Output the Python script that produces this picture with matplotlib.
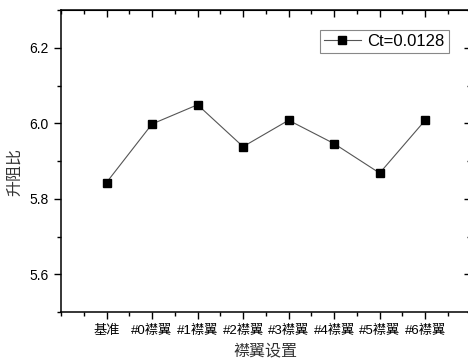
import matplotlib
matplotlib.use("Agg")
import matplotlib.pyplot as plt
from matplotlib.ticker import MultipleLocator, FixedLocator

plt.rcParams['font.family'] = ['Liberation Sans', 'Noto Sans CJK SC', 'DejaVu Sans']

categories = ["基准", "#0襟翼", "#1襟翼", "#2襟翼", "#3襟翼", "#4襟翼", "#5襟翼", "#6襟翼"]
lift_drag = [5.843, 5.998, 6.049, 5.938, 6.008, 5.946, 5.868, 6.008]
series_label = "Ct=0.0128"

fig = plt.figure(figsize=(4.68, 3.62), dpi=100)
# the right spine sits just past the picture edge, as in the original export
ax = fig.add_axes([0.1303, 0.138, 0.8755, 0.8344])

xs = list(range(1, len(categories) + 1))
ax.plot(xs, lift_drag, color="#555555", linewidth=0.8, marker="s",
        markersize=6, markerfacecolor="black", markeredgecolor="black",
        label=series_label)

ax.set_xlim(0, 9)
ax.set_ylim(5.5, 6.3)
ax.xaxis.set_major_locator(FixedLocator(xs))
ax.xaxis.set_minor_locator(MultipleLocator(0.5))
ax.set_xticklabels(categories, fontsize=9.5)
ax.yaxis.set_major_locator(FixedLocator([5.6, 5.8, 6.0, 6.2]))
ax.yaxis.set_minor_locator(FixedLocator([5.5, 5.7, 5.9, 6.1, 6.3]))
ax.set_yticklabels(["5.6", "5.8", "6.0", "6.2"], fontsize=10)

ax.tick_params(which="major", direction="out", length=5, width=1, pad=4)
ax.tick_params(which="minor", direction="out", length=3, width=1)

for s in ax.spines.values():
    s.set_linewidth(1.1)

# mirrored axes with inward ticks on top and right
top = ax.secondary_xaxis("top")
top.xaxis.set_major_locator(FixedLocator(xs))
top.xaxis.set_minor_locator(MultipleLocator(0.5))
top.tick_params(which="major", direction="in", length=5, width=1, labeltop=False)
top.tick_params(which="minor", direction="in", length=3, width=1)
right = ax.secondary_yaxis("right")
right.yaxis.set_major_locator(FixedLocator([5.6, 5.8, 6.0, 6.2]))
right.yaxis.set_minor_locator(FixedLocator([5.5, 5.7, 5.9, 6.1, 6.3]))
right.tick_params(which="major", direction="in", length=5, width=1, labelright=False)
right.tick_params(which="minor", direction="in", length=3, width=1)

ax.set_xlabel("襟翼设置", fontsize=11.5, color="#333333", labelpad=5)
ax.set_ylabel("升阻比", fontsize=11.5, color="#333333")
ax.yaxis.set_label_coords(-0.094, 0.464)

leg = ax.legend(loc="upper right", bbox_to_anchor=(0.946, 0.935), fontsize=12,
                fancybox=False, edgecolor="#888888", framealpha=1,
                handlelength=2.2, borderpad=0.25, handletextpad=0.4,
                borderaxespad=0, markerscale=0.85)
leg.get_frame().set_linewidth(0.8)

fig.savefig("out.png", dpi=100)
